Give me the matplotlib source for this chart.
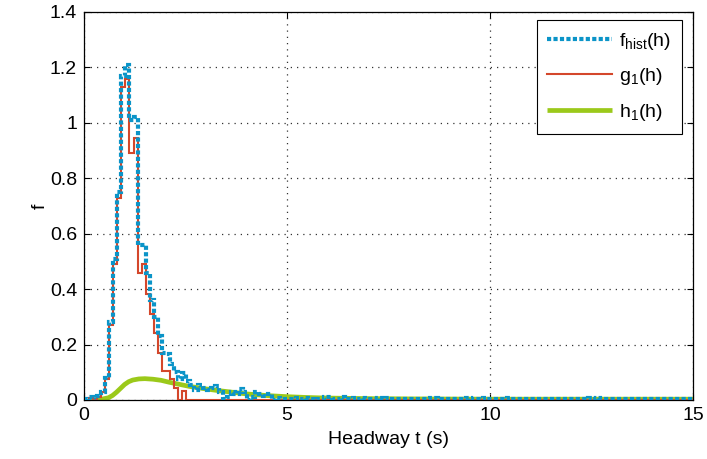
import numpy as np
import matplotlib.pyplot as plt
from matplotlib.ticker import FormatStrFormatter, MultipleLocator

plt.rcParams['font.family'] = ['Liberation Sans', 'DejaVu Sans']
plt.rcParams['mathtext.fontset'] = 'custom'
plt.rcParams['mathtext.rm'] = 'Liberation Sans'

# Histogram bins of headway, 0.1 s wide
bin_width = 0.1
edges = np.round(np.arange(0, 15 + bin_width / 2, bin_width), 2) + 0.02

# Measured headway histogram (first 5 s)
f_hist_head = [0.005, 0.01, 0.0, 0.015, 0.03, 0.08, 0.28, 0.51, 0.75, 1.17,
               1.21, 1.01, 1.02, 0.56, 0.56, 0.46, 0.36, 0.30, 0.23, 0.17,
               0.165, 0.13, 0.10, 0.075, 0.096, 0.07, 0.055, 0.036, 0.055, 0.045,
               0.036, 0.045, 0.05, 0.03, 0.005, 0.01, 0.03, 0.02, 0.04, 0.03,
               0.0, 0.012, 0.028, 0.02, 0.015, 0.02, 0.0, 0.008, 0.003, 0.005]
# Tail of the histogram, 5 s to 15 s
f_hist_tail = [0.004, 0.002, 0.006, 0.003, 0.007, 0.002, 0.001, 0.003, 0.002, 0.012,
               0.01, 0.002, 0.003, 0.012, 0.002, 0.003, 0.008, 0.002, 0.009, 0.002,
               0.003, 0.002, 0.008, 0.002, 0.009, 0.003, 0.002, 0.002, 0.002, 0.003,
               0.002, 0.002, 0.003, 0.002, 0.002, 0.009, 0.008, 0.002, 0.003, 0.002,
               0.002, 0.003, 0.002, 0.002, 0.008, 0.002, 0.002, 0.003, 0.008, 0.002,
               0.003, 0.002, 0.002, 0.003, 0.006, 0.002, 0.002, 0.003, 0.002, 0.002,
               0.002, 0.003, 0.002, 0.002, 0.003, 0.002, 0.002, 0.003, 0.002, 0.002,
               0.003, 0.002, 0.002, 0.003, 0.008, 0.002, 0.008, 0.002, 0.003, 0.002,
               0.002, 0.003, 0.002, 0.002, 0.003, 0.002, 0.002, 0.003, 0.002, 0.002,
               0.002, 0.003, 0.002, 0.002, 0.003, 0.002, 0.002, 0.003, 0.002, 0.002]
f_hist = np.array(f_hist_head + f_hist_tail)

# Fitted component g1, zero beyond 2.5 s
g1_head = [0.0, 0.008, 0.0, 0.01, 0.03, 0.076, 0.27, 0.49, 0.73, 1.13,
           1.158, 0.893, 0.947, 0.457, 0.49, 0.383, 0.31, 0.24, 0.168, 0.106,
           0.106, 0.075, 0.042, 0.0, 0.034]
g1 = np.array(g1_head + [0.0] * (len(f_hist) - len(g1_head)))

# Fitted component h1
h1_t = [0.1, 0.2, 0.4, 0.6, 0.7, 0.8, 0.9, 1.0, 1.1, 1.2, 1.35, 1.5, 1.7, 1.9,
        2.1, 2.3, 2.6, 3.0, 3.3, 3.6, 4.0, 4.5, 5.0, 5.5, 6.0, 7.0, 8.0, 10.0,
        12.0, 15.0]
h1 = [0.0, 0.0, 0.002, 0.008, 0.016, 0.028, 0.042, 0.056, 0.066, 0.072, 0.076,
      0.077, 0.075, 0.071, 0.064, 0.058, 0.049, 0.040, 0.034, 0.029, 0.022,
      0.016, 0.012, 0.009, 0.007, 0.005, 0.004, 0.003, 0.003, 0.003]

c_blue = '#0b94c8'
c_red = '#d4472b'
c_green = '#9bc91a'

fig = plt.figure(figsize=(7.07, 4.59), dpi=100)
ax = fig.add_axes([84 / 707, 59 / 459, 609 / 707, 388 / 459])

l_f = ax.stairs(f_hist, edges, color=c_blue, linewidth=3.0,
                linestyle=(0, (1, 0.55)), zorder=4, baseline=None)
l_g = ax.stairs(g1, edges, color=c_red, linewidth=1.5, zorder=3, baseline=None)
l_h, = ax.plot(h1_t, h1, color=c_green, linewidth=3.4, zorder=2,
               solid_capstyle='butt')

ax.set_xlim(0, 15)
ax.set_ylim(0, 1.4)
ax.xaxis.set_major_locator(MultipleLocator(5))
ax.yaxis.set_major_locator(MultipleLocator(0.2))
ax.xaxis.set_major_formatter(FormatStrFormatter('%g'))
ax.yaxis.set_major_formatter(FormatStrFormatter('%g'))

ax.grid(True, color='#333333', linestyle=(0, (1, 4)), linewidth=0.9)
ax.set_axisbelow(True)
ax.tick_params(direction='in', length=4, width=0.8, top=True, right=True,
               labelsize=14, pad=5, colors='black')
for sp in ax.spines.values():
    sp.set_linewidth(0.9)

ax.set_xlabel('Headway t (s)', fontsize=14, labelpad=5)
ax.set_ylabel('f', fontsize=14, labelpad=0.5)

proxy_f, = ax.plot([], [], color=c_blue, linewidth=3.0, linestyle=(0, (1, 0.55)))
proxy_g, = ax.plot([], [], color=c_red, linewidth=1.5)
leg = ax.legend([proxy_f, proxy_g, l_h],
                [r'$\mathregular{f_{hist}(h)}$', r'$\mathregular{g_1(h)}$',
                 r'$\mathregular{h_1(h)}$'],
                loc='upper right', bbox_to_anchor=(598 / 609, 380 / 388),
                borderaxespad=0, fontsize=14, handlelength=3.3,
                handletextpad=0.4, labelspacing=0.75, borderpad=0.55,
                fancybox=False, framealpha=1, edgecolor='black')
leg.get_frame().set_linewidth(0.8)

fig.savefig('out.png', dpi=100)
